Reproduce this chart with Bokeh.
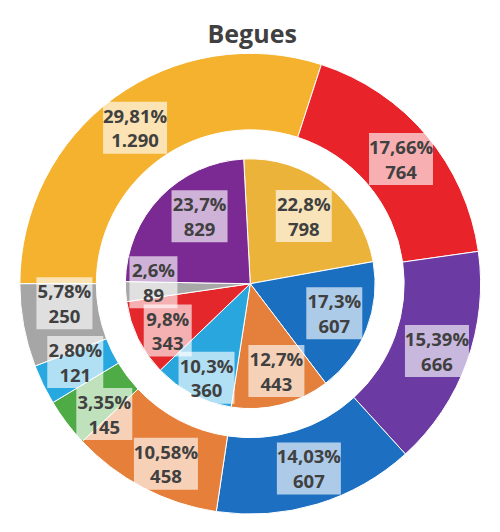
import math
from bokeh.plotting import figure
from bokeh.models import Range1d, ColumnDataSource
from bokeh.embed import file_html
from bokeh.resources import INLINE
from bokeh.core.properties import value

title_text = "Begues"

# outer ring (clockwise, starting at 9 o'clock)
outer_pct = [29.81, 17.66, 15.39, 14.03, 10.58, 3.35, 2.80, 5.78]
outer_votes = [1290, 764, 666, 607, 458, 145, 121, 250]
outer_colors = ["#F4B22E", "#E8232A", "#6B3BA3", "#1D6FC2", "#E67F39", "#4EAB45", "#27A8E0", "#A6A6A6"]

# inner pie (clockwise, starting near 12 o'clock)
inner_pct = [22.8, 17.3, 12.7, 10.3, 9.8, 2.6, 23.7]
inner_votes = [798, 607, 443, 360, 343, 89, 829]
inner_colors = ["#EBB33A", "#1B6FC0", "#E4803C", "#29A6DE", "#E3272A", "#A8A8A8", "#7A2A92"]

# layout: data units follow the reference picture (500 x 532, y down -> data y = -y)
W, H = 484, 516
CX, CY = 258, -292
R_OUT, R_HOLE, R_PIE = 238, 159, 129
OUTER_START, INNER_START = -90.0, -3.0
# label placement tweaks (degrees shift from mid-angle, radius)
OUT_SHIFT = [-0.5, 0.5, 0, -0.7, -2.5, -4.6, 1.9, 4.5]
OUT_RAD = [200, 202, 205, 200, 205, 202, 198, 193]
IN_SHIFT = [0, -2, -2.5, -2.5, -3.5, 4.5, 9]
IN_RAD = [89, 92, 94, 107, 98, 100, 87]
FONT = value("Open Sans")
TXT = "#404040"


def fmt_pct(v, d):
    return f"{v:.{d}f}".replace(".", ",") + "%"


def fmt_votes(v):
    return f"{v:,}".replace(",", ".")


def slices(votes, start):
    tot = float(sum(votes))
    a = start
    starts, ends, mids = [], [], []
    for v in votes:
        b = a + v / tot * 360.0
        starts.append(math.radians(90 - b))
        ends.append(math.radians(90 - a))
        mids.append((a + b) / 2)
        a = b
    return starts, ends, mids


p = figure(width=W, height=H, x_range=Range1d(0, 500), y_range=Range1d(-532, 0),
           output_backend="svg", toolbar_location=None, min_border=0)
p.axis.visible = False
p.grid.visible = False
p.outline_line_color = None
p.background_fill_color = "white"
p.border_fill_color = "white"

# outer ring
os_, oe_, om_ = slices(outer_votes, OUTER_START)
src_o = ColumnDataSource(dict(s=os_, e=oe_, c=outer_colors))
p.annular_wedge(x=CX, y=CY, inner_radius=R_HOLE, outer_radius=R_OUT,
                start_angle="s", end_angle="e", fill_color="c",
                line_color="white", line_width=1, source=src_o)

# inner pie
is_, ie_, im_ = slices(inner_votes, INNER_START)
src_i = ColumnDataSource(dict(s=is_, e=ie_, c=inner_colors))
p.wedge(x=CX, y=CY, radius=R_PIE, start_angle="s", end_angle="e",
        fill_color="c", line_color="white", line_width=1, source=src_i)

# labels
lx, ly, l1, l2, bw = [], [], [], [], []


def add_labels(mids, shifts, rads, pcts, votes, dec):
    for m, sh, r, pc, v in zip(mids, shifts, rads, pcts, votes):
        a = math.radians(m + sh)
        lx.append(CX + r * math.sin(a))
        ly.append(CY + r * math.cos(a))
        t1 = fmt_pct(pc, dec)
        l1.append(t1)
        l2.append(fmt_votes(v))
        bw.append(8 * len(t1) + 16)


add_labels(om_, OUT_SHIFT, OUT_RAD, outer_pct, outer_votes, 2)
add_labels(im_, IN_SHIFT, IN_RAD, inner_pct, inner_votes, 1)

src_l = ColumnDataSource(dict(x=lx, y=ly, y1=[v + 13 for v in ly], y2=[v - 13.5 for v in ly],
                              t1=l1, t2=l2, w=bw))
p.rect(x="x", y="y", width="w", height=52, width_units="screen", height_units="screen",
       fill_color="white", fill_alpha=0.64, line_color=None, source=src_l)
for col_y, col_t in (("y1", "t1"), ("y2", "t2")):
    p.text(x="x", y=col_y, text=col_t, source=src_l, text_font=FONT,
           text_font_style="bold", text_font_size="18.5px", text_color=TXT,
           text_align="center", text_baseline="middle")

# title
p.text(x=[260], y=[-33], text=[title_text], text_font=FONT,
       text_font_style="bold", text_font_size="25px", text_color=TXT,
       text_align="center", text_baseline="alphabetic")

open("out.html", "w").write(file_html(p, INLINE))
